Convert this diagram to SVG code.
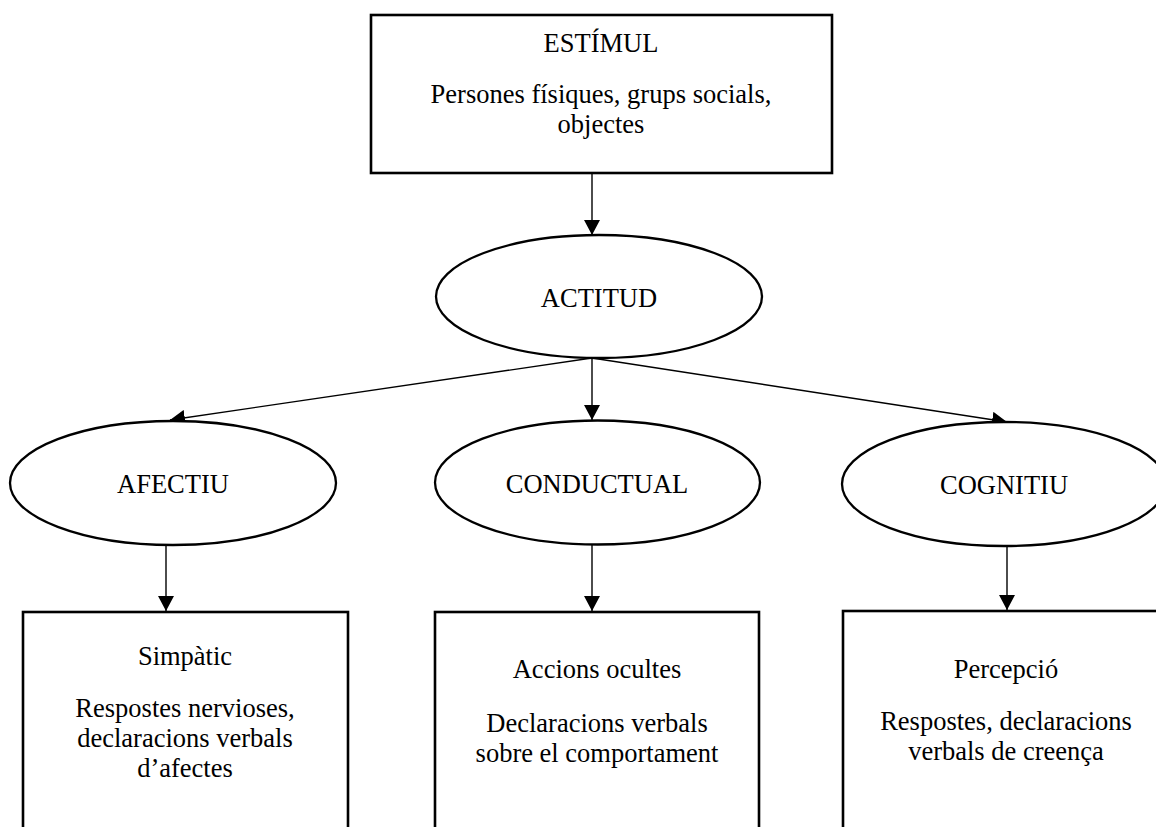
<svg xmlns="http://www.w3.org/2000/svg" width="1156" height="827" viewBox="0 0 1156 827">
  <style>
    .box { fill: #fff; stroke: #000; stroke-width: 2.6; }
    .oval { fill: #fff; stroke: #000; stroke-width: 2.3; }
    .lbl { font-family: "Liberation Serif", "Times New Roman", serif; font-size: 26.5px; fill: #000; text-anchor: middle; }
    .edge { stroke: #000; stroke-width: 1.4; fill: none; marker-end: url(#arrow); }
  </style>
  <defs>
    <marker id="arrow" markerUnits="userSpaceOnUse" markerWidth="16" markerHeight="16" refX="15" refY="8" orient="auto">
      <path d="M0,0 L15,8 L0,16 z" fill="#000"/>
    </marker>
  </defs>
  <rect width="1156" height="827" fill="#fff"/>

  <g id="connectors">
    <line class="edge" x1="592" y1="173" x2="592" y2="235"/>
    <line class="edge" x1="592" y1="358" x2="170" y2="420"/>
    <line class="edge" x1="592" y1="358" x2="592" y2="420"/>
    <line class="edge" x1="592" y1="358" x2="1007" y2="422"/>
    <line class="edge" x1="166" y1="545" x2="166" y2="611"/>
    <line class="edge" x1="592" y1="544" x2="592" y2="611"/>
    <line class="edge" x1="1007" y1="546" x2="1007" y2="610"/>
  </g>

  <g id="estimul">
    <rect class="box" x="371" y="15" width="461" height="158" stroke-width="3"/>
    <text class="lbl" x="601" y="52">ESTÍMUL</text>
    <text class="lbl" x="601" y="103">Persones físiques, grups socials,</text>
    <text class="lbl" x="601" y="133">objectes</text>
  </g>

  <g id="actitud">
    <ellipse class="oval" cx="599" cy="296.5" rx="163" ry="61.5"/>
    <text class="lbl" x="599" y="307">ACTITUD</text>
  </g>

  <g id="afectiu">
    <ellipse class="oval" cx="173" cy="483" rx="163" ry="62"/>
    <text class="lbl" x="173" y="493">AFECTIU</text>
  </g>

  <g id="conductual">
    <ellipse class="oval" cx="597.5" cy="482.5" rx="162.5" ry="62"/>
    <text class="lbl" x="597" y="493">CONDUCTUAL</text>
  </g>

  <g id="cognitiu">
    <ellipse class="oval" cx="1004" cy="484" rx="162" ry="62"/>
    <text class="lbl" x="1004" y="494">COGNITIU</text>
  </g>

  <g id="simpatic">
    <rect class="box" x="23" y="612" width="325" height="230"/>
    <text class="lbl" x="185" y="665">Simpàtic</text>
    <text class="lbl" x="185" y="717">Respostes nervioses,</text>
    <text class="lbl" x="185" y="747">declaracions verbals</text>
    <text class="lbl" x="185" y="777">d’afectes</text>
  </g>

  <g id="accions">
    <rect class="box" x="435" y="612" width="324" height="230"/>
    <text class="lbl" x="597" y="678">Accions ocultes</text>
    <text class="lbl" x="597" y="732">Declaracions verbals</text>
    <text class="lbl" x="597" y="762">sobre el comportament</text>
  </g>

  <g id="percepcio">
    <rect class="box" x="843" y="611" width="326" height="230"/>
    <text class="lbl" x="1006" y="678">Percepció</text>
    <text class="lbl" x="1006" y="730">Respostes, declaracions</text>
    <text class="lbl" x="1006" y="760">verbals de creença</text>
  </g>
</svg>
